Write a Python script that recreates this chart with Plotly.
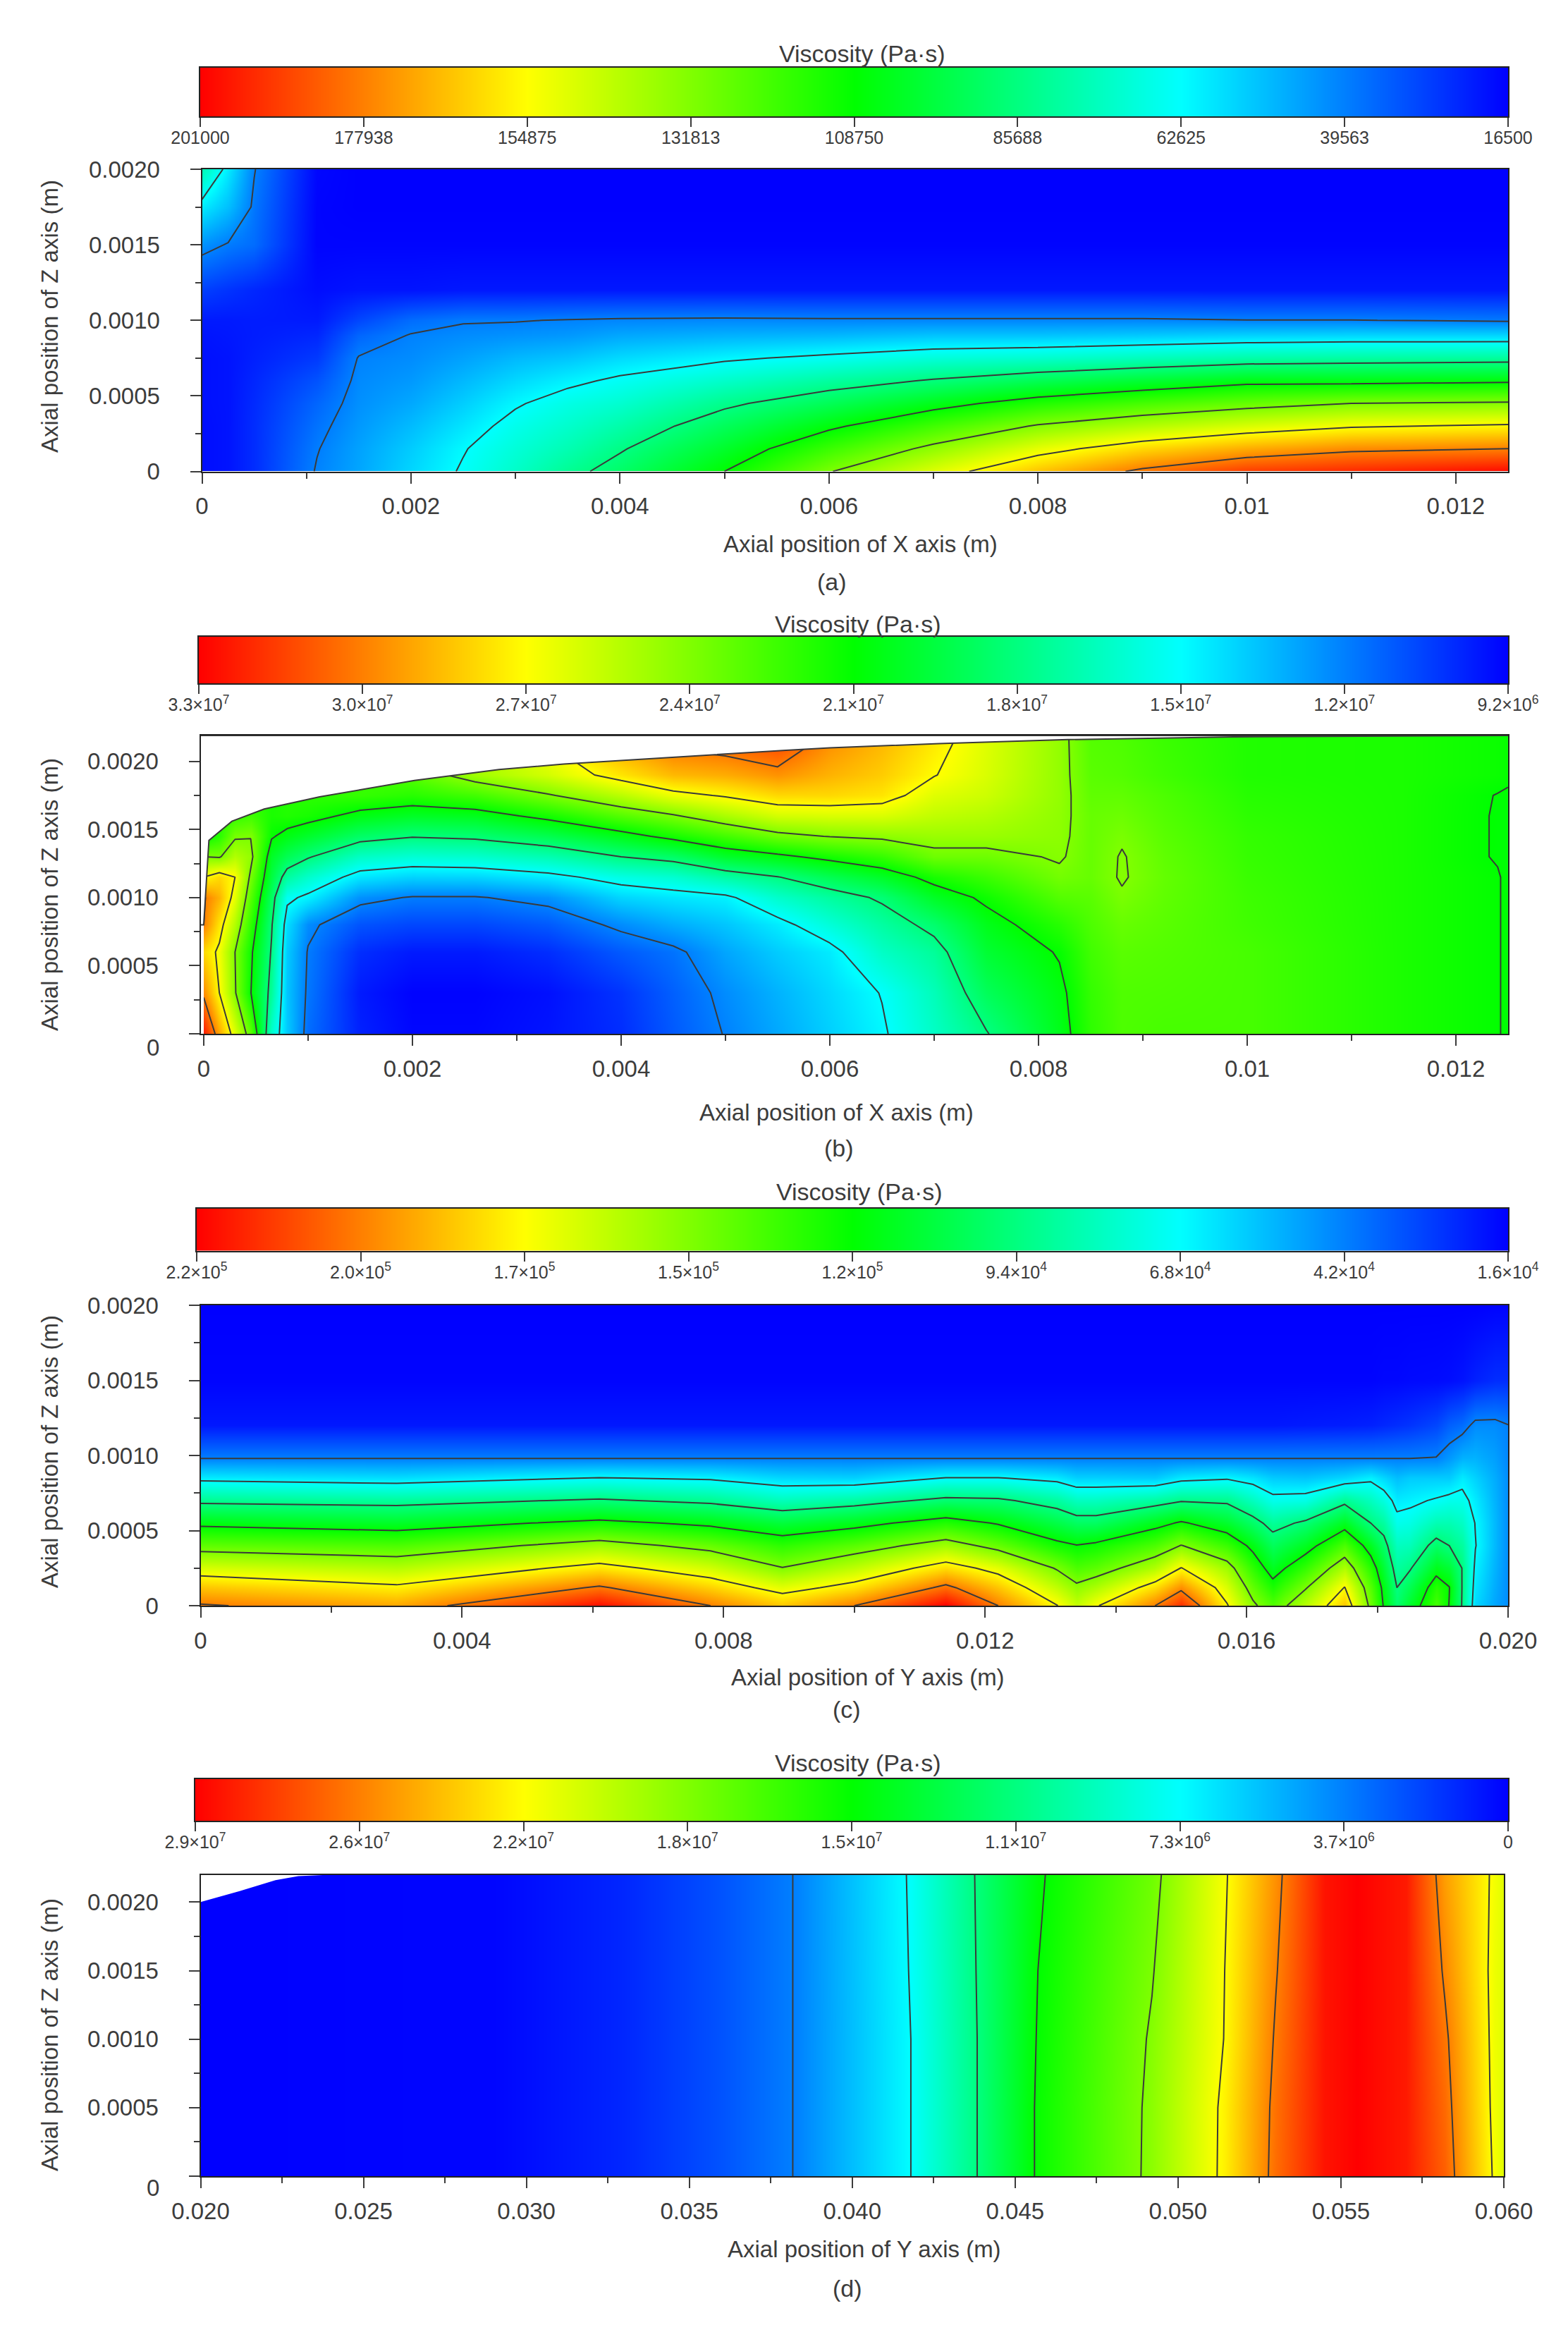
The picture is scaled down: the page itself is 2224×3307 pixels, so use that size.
import numpy as np
import plotly.graph_objects as go

# picture size, all placing below is in pixels of the photographed page
W, H = 2224, 3307
PAGE_MARGIN = 8  # the browser's own margin round the plot

rainbow = [[0, '#0000ff'], [0.25, '#00ffff'], [0.5, '#00ff00'], [0.75, '#ffff00'], [1, '#ff0000']]
ink = '#3c3c3c'
font_name = 'Liberation Sans'

# colour bar labels, left (high) to right (low)
a_bar = ['201000', '177938', '154875', '131813', '108750', '85688', '62625', '39563', '16500']
b_bar = ['3.3×10<sup>7</sup>', '3.0×10<sup>7</sup>', '2.7×10<sup>7</sup>', '2.4×10<sup>7</sup>', '2.1×10<sup>7</sup>',
         '1.8×10<sup>7</sup>', '1.5×10<sup>7</sup>', '1.2×10<sup>7</sup>', '9.2×10<sup>6</sup>']
c_bar = ['2.2×10<sup>5</sup>', '2.0×10<sup>5</sup>', '1.7×10<sup>5</sup>', '1.5×10<sup>5</sup>', '1.2×10<sup>5</sup>',
         '9.4×10<sup>4</sup>', '6.8×10<sup>4</sup>', '4.2×10<sup>4</sup>', '1.6×10<sup>4</sup>']
d_bar = ['2.9×10<sup>7</sup>', '2.6×10<sup>7</sup>', '2.2×10<sup>7</sup>', '1.8×10<sup>7</sup>', '1.5×10<sup>7</sup>',
         '1.1×10<sup>7</sup>', '7.3×10<sup>6</sup>', '3.7×10<sup>6</sup>', '0']
bar_steps = [8, 7, 6, 5, 4, 3, 2, 1, 0]

# viscosity range of each panel (Pa.s)
a_range = [16500, 201000]
b_range = [9.2e6, 3.3e7]
c_range = [1.6e4, 2.2e5]
d_range = [0, 2.9e7]

# values below are read against the colour bar: 0 = right end, 8 = left end,
# each whole number is one tick of the bar and one contour line

# (a) rows bottom to top
a_x = [0, .00025, .0005, .0011, .0015, .002, .0025, .003, .0035, .004, .005, .006, .007, .008, .009, .01, .011, .0125]
a_z = [0, .00015, .0003, .00045, .0006, .00075, .0009, .001, .0012, .0015, .00175, .002]
a_rows = [
    [.1, .15, .35, 1.03, 1.3, 1.68, 2.05, 2.43, 2.85, 3.2, 4.0, 4.97, 5.75, 6.48, 7.1, 7.55, 7.7, 7.95],
    [.1, .15, .35, .98, 1.27, 1.6, 1.97, 2.3, 2.6, 2.95, 3.66, 4.45, 5.13, 5.8, 6.3, 6.65, 6.9, 7.0],
    [.1, .15, .35, .9, 1.2, 1.47, 1.8, 2.15, 2.4, 2.67, 3.3, 3.9, 4.5, 5.05, 5.4, 5.7, 5.95, 6.07],
    [.12, .15, .33, .8, 1.13, 1.32, 1.62, 1.95, 2.2, 2.37, 2.9, 3.33, 3.8, 4.25, 4.55, 4.8, 5.0, 5.07],
    [.12, .15, .3, .65, 1.08, 1.2, 1.45, 1.7, 1.9, 2.08, 2.42, 2.75, 3.05, 3.35, 3.6, 3.85, 3.85, 3.92],
    [.12, .15, .25, .45, 1.02, 1.1, 1.27, 1.45, 1.55, 1.72, 1.93, 2.1, 2.3, 2.4, 2.55, 2.7, 2.75, 2.8],
    [.15, .18, .22, .3, .8, 1.02, 1.1, 1.15, 1.2, 1.32, 1.4, 1.45, 1.55, 1.55, 1.6, 1.67, 1.7, 1.7],
    [.2, .2, .22, .2, .55, .85, .97, .98, 1.02, 1.05, 1.07, 1.05, 1.05, 1.05, 1.05, 1.01, 1.01, .95],
    [.5, .4, .3, .1, .15, .15, .18, .18, .18, .18, .18, .18, .18, .18, .18, .18, .18, .18],
    [1.15, .97, .85, .03, .03, .03, .03, .03, .03, .03, .03, .03, .03, .03, .03, .03, .03, .03],
    [1.85, 1.5, .93, .03, 0, 0, 0, 0, 0, 0, 0, 0, 0, 0, 0, 0, 0, 0],
    [2.6, 1.85, 1.02, .05, 0, 0, 0, 0, 0, 0, 0, 0, 0, 0, 0, 0, 0, 0],
]

# (b) columns left to right, each bottom to top
b_x = [0, .00015, .0003, .00045, .00065, .0008, .001, .0015, .002, .0026, .0033, .004, .0045, .005, .0055, .006,
       .0065, .007, .0075, .0082, .0085, .0088, .0092, .01, .0115, .0124, .0125]
b_z = [0, .0003, .0006, .0008, .001, .00115, .0013, .00145, .0016, .00175, .0019, .0022]
b_cols = [
    [7.8, 6.9, 6.3, 7.0, 7.05, 6.0, 5.0, 4.0, 4.0, 4.0, 4.0, 4.0],
    [6.7, 6.0, 5.9, 6.2, 6.6, 6.3, 4.95, 4.3, 4.3, 4.3, 4.3, 4.3],
    [5.75, 5.05, 5.0, 5.4, 5.8, 6.0, 5.4, 4.93, 4.4, 4.4, 4.4, 4.4],
    [4.7, 4.02, 4.1, 4.35, 4.65, 4.9, 5.15, 4.98, 4.5, 4.4, 4.4, 4.4],
    [2.4, 2.8, 2.95, 3.05, 3.25, 3.5, 3.7, 4.05, 4.2, 4.2, 4.2, 4.2],
    [1.6, 1.55, 1.6, 1.75, 2.1, 2.75, 3.35, 3.85, 4.25, 4.3, 4.3, 4.3],
    [.85, .93, .97, 1.1, 1.9, 2.4, 3.05, 3.65, 4.18, 4.35, 4.35, 4.35],
    [.25, .2, .35, .65, 1.13, 1.8, 2.45, 3.2, 3.85, 4.4, 4.5, 4.5],
    [.05, .02, .2, .55, .97, 1.65, 2.33, 3.03, 3.7, 4.3, 4.7, 4.7],
    [.05, .02, .2, .55, .97, 1.67, 2.38, 3.1, 3.77, 4.5, 5.25, 5.5],
    [.15, .12, .35, .7, 1.14, 1.85, 2.6, 3.37, 4.15, 4.95, 5.65, 6.1],
    [.35, .4, .7, 1.1, 1.67, 2.2, 3.0, 3.8, 4.65, 5.45, 6.2, 6.9],
    [.7, .75, .9, 1.35, 1.8, 2.35, 3.2, 4.15, 4.95, 5.85, 6.55, 7.3],
    [1.02, 1.1, 1.3, 1.55, 1.9, 2.7, 3.65, 4.5, 5.33, 6.05, 6.65, 7.4],
    [1.32, 1.4, 1.6, 1.85, 2.4, 2.98, 3.88, 4.85, 5.65, 6.3, 6.85, 7.6],
    [1.63, 1.7, 1.85, 2.3, 2.75, 3.35, 4.15, 5.02, 5.7, 6.3, 6.6, 6.95],
    [1.94, 2.02, 2.45, 2.73, 3.08, 3.68, 4.4, 5.1, 5.7, 6.2, 6.4, 6.6],
    [2.45, 2.55, 2.8, 3.15, 3.7, 4.18, 4.85, 5.2, 5.5, 5.75, 6.02, 6.2],
    [2.97, 3.3, 3.6, 3.8, 4.1, 4.45, 4.85, 5.2, 5.4, 5.6, 5.7, 5.75],
    [3.8, 3.88, 4.04, 4.3, 4.65, 4.9, 5.05, 5.1, 5.12, 5.15, 5.15, 5.15],
    [4.35, 4.4, 4.5, 4.6, 4.7, 4.8, 4.8, 4.8, 4.8, 4.75, 4.7, 4.65],
    [4.6, 4.62, 4.7, 4.8, 4.95, 5.04, 5.03, 4.95, 4.85, 4.75, 4.65, 4.6],
    [4.55, 4.6, 4.65, 4.7, 4.75, 4.78, 4.75, 4.7, 4.65, 4.6, 4.5, 4.45],
    [4.55, 4.55, 4.55, 4.5, 4.48, 4.45, 4.42, 4.4, 4.35, 4.3, 4.25, 4.25],
    [4.2, 4.2, 4.2, 4.2, 4.2, 4.2, 4.2, 4.2, 4.2, 4.2, 4.2, 4.2],
    [4.02, 4.02, 4.02, 4.02, 4.02, 4.02, 3.98, 3.98, 3.98, 3.99, 4.08, 4.08],
    [3.95, 3.95, 3.95, 3.95, 3.95, 3.95, 3.95, 3.95, 3.95, 3.98, 4.03, 4.03],
]
# free surface of the melt in (b)
b_edge_x = [0, .00005, .00027, .00058, .00111, .00202, .00283, .00345, .00427, .00555, .006, .00705, .00828, .00987, .0125]
b_edge_z = [.0008, .00142, .00156, .00165, .00174, .00186, .00194, .00198, .00202, .00208, .0021, .00213, .00216, .00218, .00219]

# (c) columns left to right, each bottom to top
c_x = [0, .003, .0061, .0078, .0089, .01, .0114, .0122, .0131, .0134, .0137, .0146, .015, .0157, .0161, .0164, .0169,
       .0175, .0179, .0181, .0183, .0185, .0189, .0191, .0193, .0195, .0198, .02]
c_z = [0, .00012, .00025, .0004, .00055, .0007, .00085, .00098, .0012, .0015, .002]
c_cols = [
    [7.05, 6.45, 5.7, 4.75, 3.87, 2.87, 1.87, 1, .18, .03, 0],
    [6.7, 6.1, 5.42, 4.6, 3.7, 2.8, 1.75, 1, .18, .03, 0],
    [7.9, 7.07, 6.2, 5.25, 4.15, 3.07, 2.02, 1, .18, .03, 0],
    [7.0, 6.35, 5.65, 4.8, 3.87, 2.87, 1.93, 1, .18, .03, 0],
    [6.45, 5.78, 5.02, 4.35, 3.55, 2.55, 1.7, 1, .18, .03, 0],
    [7.0, 6.2, 5.5, 4.7, 3.8, 2.75, 1.65, 1, .18, .03, 0],
    [8.0, 7.13, 6.27, 5.27, 4.27, 3.15, 2.02, 1, .18, .03, 0],
    [7.0, 6.45, 5.8, 4.8, 3.95, 3.1, 2.02, 1, .18, .03, 0],
    [6.02, 5.5, 4.95, 4.15, 3.45, 2.75, 1.85, 1, .18, .03, 0],
    [5.55, 5.12, 4.6, 4.02, 3.25, 2.5, 1.65, 1, .18, .03, 0],
    [5.95, 5.35, 4.72, 4.12, 3.25, 2.5, 1.65, 1, .18, .03, 0],
    [7.0, 6.25, 5.4, 4.6, 3.8, 2.75, 1.6, 1, .18, .03, 0],
    [7.65, 6.87, 6.02, 5.02, 4.07, 2.95, 1.85, 1, .18, .03, 0],
    [6.05, 5.7, 5.25, 4.45, 3.65, 2.9, 1.95, 1, .18, .03, 0],
    [5.1, 4.75, 4.35, 3.85, 3.2, 2.5, 1.8, 1, .18, .03, 0],
    [4.65, 4.2, 3.75, 3.3, 2.8, 2.15, 1.6, 1, .18, .03, 0],
    [5.45, 4.95, 4.4, 3.75, 3.1, 2.2, 1.55, 1, .2, .03, 0],
    [6.45, 6.02, 5.37, 4.6, 3.75, 2.85, 1.7, 1, .22, .03, 0],
    [4.85, 4.65, 4.3, 3.75, 3.0, 2.5, 1.9, 1, .25, .03, 0],
    [3.95, 3.85, 3.6, 3.2, 2.75, 2.25, 1.7, 1, .3, .05, 0],
    [3.15, 3.0, 2.75, 2.5, 2.15, 1.85, 1.5, 1, .35, .05, 0],
    [3.65, 3.35, 2.95, 2.55, 2.2, 1.9, 1.6, 1, .4, .07, 0],
    [4.55, 4.3, 3.8, 3.2, 2.6, 2.05, 1.6, 1.02, .55, .08, 0],
    [3.98, 4.02, 3.6, 3.0, 2.6, 2.15, 1.6, 1.2, .75, .1, 0],
    [2.95, 2.97, 2.98, 2.75, 2.45, 2.15, 1.85, 1.4, .85, .15, 0],
    [1.7, 1.8, 1.9, 2.02, 1.98, 1.85, 1.65, 1.4, 1.1, .25, 0],
    [1.3, 1.35, 1.4, 1.45, 1.45, 1.4, 1.35, 1.25, 1.1, .35, .02],
    [1.1, 1.1, 1.1, 1.1, 1.1, 1.1, 1.1, 1.05, 1.01, .35, .02],
]

# (d) columns left to right, each bottom to top
d_x = [.02, .029, .033, .036, .0383, .0418, .0438, .0457, .0492, .0514, .053, .0545, .0555, .057, .0582, .0597, .06]
d_z = [0, .0005, .001, .0015, .0022]
d_cols = [
    [0, 0, 0, 0, 0],
    [.04, .04, .04, .04, .04],
    [.3, .3, .3, .3, .3],
    [.65, .65, .65, .65, .65],
    [1.02, 1.02, 1.02, 1.02, 1.02],
    [2.0, 2.0, 2.0, 2.02, 2.04],
    [2.98, 2.98, 2.98, 3.0, 3.02],
    [4.06, 4.06, 4.03, 4.0, 3.94],
    [5.1, 5.09, 5.05, 4.97, 4.86],
    [6.09, 6.08, 6.0, 5.98, 5.93],
    [7.15, 7.12, 7.05, 6.97, 6.87],
    [7.85, 7.85, 7.85, 7.85, 7.85],
    [8.0, 8.0, 8.0, 8.0, 8.0],
    [7.8, 7.8, 7.8, 7.8, 7.8],
    [7.25, 7.17, 7.08, 6.93, 6.75],
    [5.95, 5.9, 5.88, 5.87, 5.92],
    [5.75, 5.75, 5.75, 5.75, 5.75],
]
d_edge_x = [.02, .0212, .0223, .023, .024]
d_edge_z = [.002, .00208, .00216, .00219, .0022]

# axis ticks
a_xticks = [0, .002, .004, .006, .008, .01, .012]
a_xlabels = ['0', '0.002', '0.004', '0.006', '0.008', '0.01', '0.012']
a_xminor = [.001, .003, .005, .007, .009, .011]
c_xticks = [0, .004, .008, .012, .016, .02]
c_xlabels = ['0', '0.004', '0.008', '0.012', '0.016', '0.020']
c_xminor = [.002, .006, .01, .014, .018]
d_xticks = [.02, .025, .03, .035, .04, .045, .05, .055, .06]
d_xlabels = ['0.020', '0.025', '0.030', '0.035', '0.040', '0.045', '0.050', '0.055', '0.060']
d_xminor = [.0225, .0275, .0325, .0375, .0425, .0475, .0525, .0575]
zticks = [0, .0005, .001, .0015, .002]
zlabels = ['0', '0.0005', '0.0010', '0.0015', '0.0020']
zminor = [.00025, .00075, .00125, .00175]


def px(x):
    return (x - PAGE_MARGIN) / W


def py(y):
    return 1 - (y - PAGE_MARGIN) / H


fig = go.Figure()
annotations = []


def add_text(text, x, y, size, angle=0, anchor='center'):
    annotations.append(dict(text=text, x=px(x), y=py(y), xref='paper', yref='paper', showarrow=False,
                            textangle=angle, xanchor=anchor, yanchor='middle',
                            font=dict(family=font_name, size=size, color=ink)))


def add_panel(n, bar_box, plot_box, bar_labels, vrange, x, z, levels, x_range, z_range,
              xticks, xlabels, xminor, xname, x_title, bar_title, letter, left_title_y):
    # colour bar drawn as its own small heatmap, the axis gives the ticks
    bx0, bx1, by0, by1 = bar_box
    bx = 'x%d' % (2 * n - 1)
    by = 'y%d' % (2 * n - 1)
    low, high = vrange
    step = (high - low) / 8
    bar_row = [low + s * step for s in bar_steps]
    fig.add_trace(go.Heatmap(x=list(range(9)), y=[0, 1], z=[bar_row, bar_row], zmin=low, zmax=high, zsmooth='best',
                             colorscale=rainbow, showscale=False, hoverinfo='skip', xaxis=bx, yaxis=by))
    fig.layout['xaxis%d' % (2 * n - 1)] = dict(
        domain=[px(bx0), px(bx1)], anchor=by, range=[0, 8], tickmode='array', tickvals=list(range(9)),
        ticktext=bar_labels, ticks='outside', ticklen=13, tickwidth=2, tickcolor=ink,
        tickfont=dict(family=font_name, size=25, color=ink), showgrid=False, zeroline=False,
        showline=True, linewidth=2, linecolor='#222222', mirror=True, ticklabelstandoff=-6)
    fig.layout['yaxis%d' % (2 * n - 1)] = dict(
        domain=[py(by1), py(by0)], anchor=bx, range=[0, 1], showticklabels=False, ticks='', showgrid=False,
        zeroline=False, showline=True, linewidth=2, linecolor='#222222', mirror=True)

    # contour map
    x0, x1, y0, y1 = plot_box
    ax = 'x%d' % (2 * n)
    ay = 'y%d' % (2 * n)
    visc = low + np.array(levels) * step
    fig.add_trace(go.Contour(x=x, y=z, z=visc, zmin=low, zmax=high, colorscale=rainbow, showscale=False,
                             contours=dict(start=low + step, end=high - step, size=step, coloring='heatmap'),
                             line=dict(color='#3a3a3a', width=2, smoothing=0), hoverinfo='skip',
                             xaxis=ax, yaxis=ay))
    fig.layout['xaxis%d' % (2 * n)] = dict(
        domain=[px(x0), px(x1)], anchor=ay, range=x_range, tickmode='array', tickvals=xticks, ticktext=xlabels,
        ticks='outside', ticklen=15, tickwidth=2, tickcolor=ink,
        minor=dict(tickmode='array', tickvals=xminor, ticks='outside', ticklen=8, tickwidth=2, tickcolor=ink),
        tickfont=dict(family=font_name, size=33, color=ink), showgrid=False, zeroline=False,
        showline=True, linewidth=2, linecolor='#222222', mirror=True, ticklabelstandoff=4)
    fig.layout['yaxis%d' % (2 * n)] = dict(
        domain=[py(y1), py(y0)], anchor=ax, range=z_range, tickmode='array', tickvals=zticks, ticktext=zname(n),
        ticks='outside', ticklen=15, tickwidth=2, tickcolor=ink,
        minor=dict(tickmode='array', tickvals=zminor, ticks='outside', ticklen=8, tickwidth=2, tickcolor=ink),
        tickfont=dict(family=font_name, size=33, color=ink), showgrid=False, zeroline=False,
        showline=True, linewidth=2, linecolor='#222222', mirror=True, ticklabelstandoff=36)

    add_text(bar_title[0], bar_title[1], bar_title[2], 34)
    add_text(xname, x_title[0], x_title[1], 33)
    add_text('(%s)' % letter[0], letter[1], letter[2], 34)
    add_text('Axial position of Z axis (m)', 70, left_title_y, 33, angle=-90)


def zname(n):
    # the "0" of (b) and (d) sits lower than its tick, placed as text below
    if n in (2, 4):
        return [''] + zlabels[1:]
    return zlabels


add_panel(1, (284, 2139, 96, 165), (286.5, 2139, 240, 668.5), a_bar, a_range, a_x, a_z, a_rows,
          [0, .0125], [0, .002], a_xticks, a_xlabels, a_xminor, 'Axial position of X axis (m)',
          (1220, 772), ('Viscosity (Pa·s)', 1223, 76), ('a', 1180, 825), 449)
add_panel(2, (282, 2139, 903, 969), (284.5, 2139, 1043, 1466), b_bar, b_range, b_x, b_z, np.array(b_cols).T,
          [-.00003, .0125], [0, .00219], a_xticks, a_xlabels, a_xminor, 'Axial position of X axis (m)',
          (1186, 1577), ('Viscosity (Pa·s)', 1217, 885), ('b', 1190, 1628), 1269)
add_panel(3, (279, 2139, 1714, 1773.5), (284.5, 2139, 1851, 2277), c_bar, c_range, c_x, c_z, np.array(c_cols).T,
          [0, .02], [0, .002], c_xticks, c_xlabels, c_xminor, 'Axial position of Y axis (m)',
          (1231, 2378), ('Viscosity (Pa·s)', 1219, 1690), ('c', 1201, 2424), 2059)
add_panel(4, (277, 2139, 2523, 2582), (284.5, 2133, 2658.5, 3086), d_bar, d_range, d_x, d_z, np.array(d_cols).T,
          [.02, .06], [0, .0022], d_xticks, d_xlabels, d_xminor, 'Axial position of Y axis (m)',
          (1226, 3189), ('Viscosity (Pa·s)', 1217, 2500), ('d', 1202, 3245), 2886)

add_text('0', 228, 1485, 33, anchor='right')
add_text('0', 228, 3102, 33, anchor='right')

# white above the free surface
fig.add_trace(go.Scatter(x=[-.00003] + b_edge_x + [.0125, -.00003], y=[.0008] + b_edge_z + [.00219, .00219],
                         mode='lines', fill='toself', fillcolor='white', line=dict(color='#3a3a3a', width=2),
                         hoverinfo='skip', showlegend=False, xaxis='x4', yaxis='y4'))
fig.add_trace(go.Scatter(x=d_edge_x + [.02], y=d_edge_z + [.0022],
                         mode='lines', fill='toself', fillcolor='white', line=dict(width=0),
                         hoverinfo='skip', showlegend=False, xaxis='x8', yaxis='y8'))

# autoexpand off, else the side texts push the plots away from their places
fig.update_layout(width=W, height=H, margin=dict(l=0, r=0, t=0, b=0, autoexpand=False),
                  paper_bgcolor='white', plot_bgcolor='white',
                  showlegend=False, annotations=annotations)

fig.write_html("out.html")
